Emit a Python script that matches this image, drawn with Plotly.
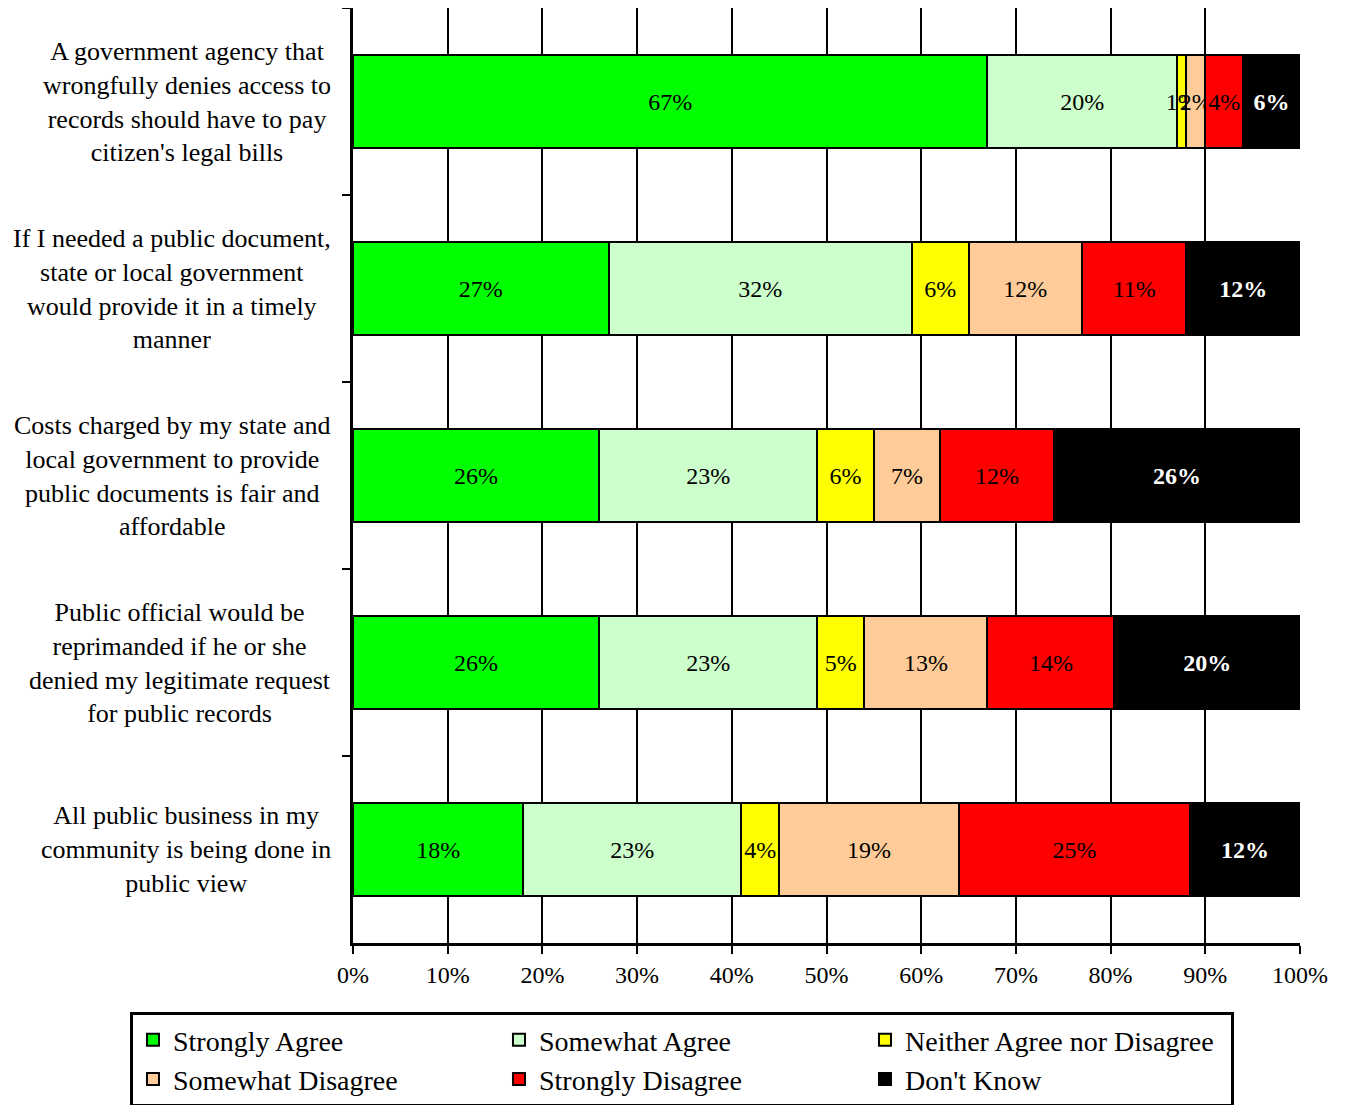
import plotly.graph_objects as go

categories = [
    "A government agency that<br>wrongfully denies access to<br>records should have to pay<br>citizen's legal bills",
    "If I needed a public document,<br>state or local government<br>would provide it in a timely<br>manner",
    "Costs charged by my state and<br>local government to provide<br>public documents is fair and<br>affordable",
    "Public official would be<br>reprimanded if he or she<br>denied my legitimate request<br>for public records",
    "All public business in my<br>community is being done in<br>public view",
]

series_names = ["Strongly Agree", "Somewhat Agree", "Neither Agree nor Disagree",
                "Somewhat Disagree", "Strongly Disagree", "Don't Know"]

strongly_agree = [67, 27, 26, 26, 18]
somewhat_agree = [20, 32, 23, 23, 23]
neither = [1, 6, 6, 5, 4]
somewhat_disagree = [2, 12, 7, 13, 19]
strongly_disagree = [4, 11, 12, 13.4, 24.4]
dont_know = [6, 12, 26, 19.6, 11.6]

strongly_agree_lbl = ["67%", "27%", "26%", "26%", "18%"]
somewhat_agree_lbl = ["20%", "32%", "23%", "23%", "23%"]
neither_lbl = ["1%", "6%", "6%", "5%", "4%"]
somewhat_disagree_lbl = ["2%", "12%", "7%", "13%", "19%"]
strongly_disagree_lbl = ["4%", "11%", "12%", "14%", "25%"]
dont_know_lbl = ["6%", "12%", "26%", "20%", "12%"]

x_ticks = [0, 10, 20, 30, 40, 50, 60, 70, 80, 90, 100]
x_tick_labels = [f"{v}%" for v in x_ticks]

colors = ["#00FF00", "#CCFFCC", "#FFFF00", "#FFCC99", "#FF0000", "#000000"]
values = [strongly_agree, somewhat_agree, neither, somewhat_disagree, strongly_disagree, dont_know]
labels = [strongly_agree_lbl, somewhat_agree_lbl, neither_lbl, somewhat_disagree_lbl,
          strongly_disagree_lbl, dont_know_lbl]

FONT = "Liberation Serif"

fig = go.Figure()
for name, vals, lbls, col in zip(series_names, values, labels, colors):
    is_dk = name == "Don't Know"
    fig.add_trace(go.Bar(
        name=name,
        y=categories,
        x=vals,
        orientation="h",
        width=0.5,
        marker=dict(color=col, line=dict(color="black", width=2)),
        text=[f"<b>{t}</b>" if is_dk else t for t in lbls],
        textposition="inside",
        insidetextanchor="middle",
        textangle=0,
        constraintext="none",
        textfont=dict(family=FONT, size=24, color="white" if is_dk else "black"),
        hoverinfo="skip",
    ))

for cat in categories:
    fig.add_annotation(
        x=0, xref="paper", xshift=-20, xanchor="right",
        y=cat, yref="y", yanchor="middle",
        text=cat, showarrow=False, align="center",
        font=dict(family=FONT, size=26, color="black"),
    )

# page body has an 8px default margin, so the figure is sized to fit the window
fig.update_layout(
    width=1338, height=1097,
    margin=dict(l=345, r=46, t=0, b=162, autoexpand=False),
    barmode="stack",
    plot_bgcolor="white",
    paper_bgcolor="white",
    font=dict(family=FONT, size=24, color="black"),
    showlegend=True,
    legend=dict(
        orientation="h",
        x=-0.2355, xanchor="left",
        y=-0.0738, yanchor="top",
        bordercolor="black", borderwidth=3,
        font=dict(family=FONT, size=28, color="black"),
        entrywidth=321, entrywidthmode="pixels",
        traceorder="normal",
        itemsizing="constant",
        itemclick=False,
    ),
    xaxis=dict(
        range=[0, 100],
        tickvals=x_ticks,
        ticktext=x_tick_labels,
        showgrid=True, gridcolor="black", gridwidth=2,
        showline=True, linecolor="black", linewidth=3,
        ticks="outside", ticklen=8, tickwidth=2, tickcolor="black",
        zeroline=False,
        tickfont=dict(family=FONT, size=24, color="black"),
        fixedrange=True,
    ),
    yaxis=dict(
        autorange="reversed",
        showticklabels=False,
        showline=True, linecolor="black", linewidth=3,
        ticks="outside", ticklen=8, tickwidth=2, tickcolor="black",
        tickson="boundaries",
        showgrid=False,
        fixedrange=True,
    ),
)

fig.write_html("out.html")
